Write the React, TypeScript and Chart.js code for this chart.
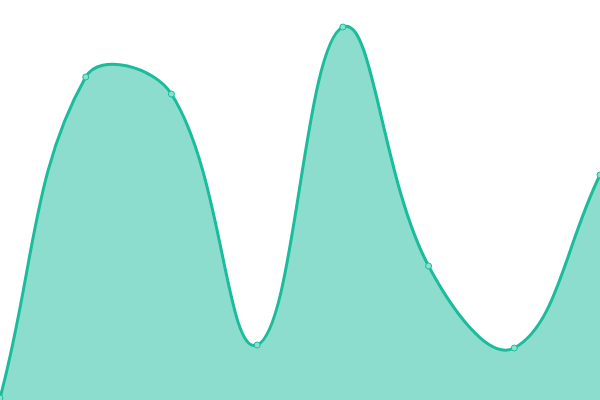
import { useEffect, useRef } from 'react'
import { Chart, registerables, type ChartConfiguration } from 'chart.js'

Chart.register(...registerables)

const labels = ['1', '2', '3', '4', '5', '6', '7', '8']
const values = [0.5, 80.75, 76.5, 13.75, 93.25, 33.5, 13, 56.25]

const LINE = '#1abc9c'
const FILL = 'rgba(26, 188, 156, 0.5)'

export default function App() {
  const canvasRef = useRef<HTMLCanvasElement | null>(null)
  const chartRef = useRef<Chart | null>(null)

  useEffect(() => {
    if (!canvasRef.current) return
    const config: ChartConfiguration<'line'> = {
      type: 'line',
      data: {
        labels,
        datasets: [
          {
            data: values,
            borderColor: LINE,
            backgroundColor: FILL,
            borderWidth: 3,
            fill: 'origin',
            tension: 0.4,
            pointRadius: 3,
            pointBorderWidth: 1,
            pointBackgroundColor: 'rgba(140, 224, 207, 1)',
            pointBorderColor: LINE,
          },
        ],
      },
      options: {
        animation: false,
        responsive: false,
        maintainAspectRatio: false,
        layout: { padding: 0, autoPadding: false },
        scales: {
          x: { display: false },
          y: { display: false, min: 0, max: 100 },
        },
        plugins: { legend: { display: false }, tooltip: { enabled: false } },
      },
    }
    chartRef.current = new Chart(canvasRef.current, config)
    return () => chartRef.current?.destroy()
  }, [])

  return (
    <div style={{ position: 'fixed', left: 0, top: 0, width: 600, height: 400, background: '#fff' }}>
      <canvas ref={canvasRef} width={600} height={400} role="img" aria-label="Area chart" />
    </div>
  )
}
